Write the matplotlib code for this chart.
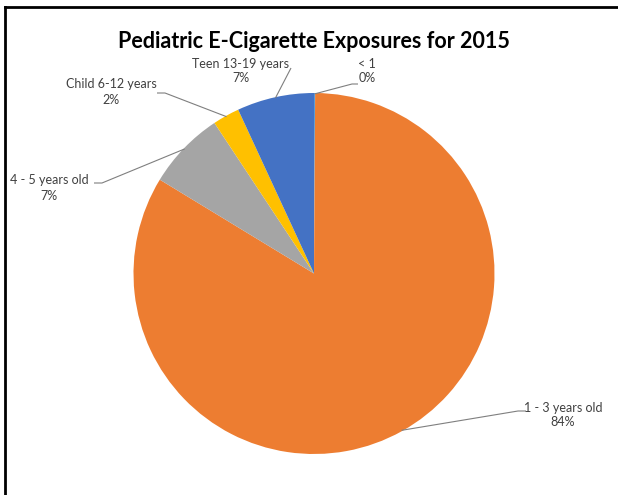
"""
Pediatric e-cigarette exposures for 2015, by age group (pie chart)
"""

import numpy as np
import matplotlib
matplotlib.use('Agg')
import matplotlib.pyplot as plt
from matplotlib.lines import Line2D

# Data (percent of exposures)
categories = ['< 1', '1 - 3 years old', '4 - 5 years old', 'Child 6-12 years', 'Teen 13-19 years']
shares = [0.1, 83.6, 7.0, 2.4, 6.9]
colors = ['#5B9BD5', '#ED7D31', '#A5A5A5', '#FFC000', '#4472C4']

plt.rcParams['font.family'] = ['Lato', 'DejaVu Sans']

W, H = 618, 495
fig = plt.figure(figsize=(W / 100, H / 100), dpi=100)
fig.patch.set_facecolor('white')

# Pie centre (314, 273.5) px, radius 180.5 px
cx, cy, r = 314, 273.5, 180.5
ax = fig.add_axes([(cx - r) / W, (H - cy - r) / H, 2 * r / W, 2 * r / H])
ax.set_aspect('equal')
ax.axis('off')

wedges, _ = ax.pie(shares, colors=colors, startangle=90, counterclock=False,
                   radius=1, center=(0, 0), wedgeprops=dict(linewidth=0))
ax.set_xlim(-1, 1)
ax.set_ylim(-1, 1)


def to_data(px, py):
    return (px - cx) / r, (cy - py) / r


# label layout: text centre, elbow point, end of horizontal stub (pixels)
layout = {
    '< 1': ((367, 71), (358, 84), (352, 84)),
    '1 - 3 years old': ((563, 415), (526, 411), (518, 411)),
    '4 - 5 years old': ((49, 188), (94, 183), (102, 183)),
    'Child 6-12 years': ((111, 92), (157, 93), (165, 93)),
    'Teen 13-19 years': ((241, 71), (291, 68), (291, 68)),
}

for wedge, cat, val in zip(wedges, categories, shares):
    (tx, ty), (ex, ey), (sx, sy) = layout[cat]
    mid = np.deg2rad((wedge.theta1 + wedge.theta2) / 2)
    px, py = np.cos(mid) * 0.995, np.sin(mid) * 0.995
    x1, y1 = to_data(ex, ey)
    x2, y2 = to_data(sx, sy)
    ax.plot([x1, x2, px], [y1, y2, py], color='#7F7F7F', lw=0.8,
            clip_on=False, solid_capstyle='butt')
    x, y = to_data(tx, ty)
    ax.text(x, y, f"{cat}\n{val:.0f}%", ha='center', va='center',
            fontsize=9, color='#404040', linespacing=1.3)

fig.text(cx / W, 1 - 41 / H, 'Pediatric E-Cigarette Exposures for 2015',
         ha='center', va='center', fontsize=15.5, fontweight='bold', color='black')

# chart frame (top and left edges visible in the crop)
fig.add_artist(Line2D([5 / W, 1], [1 - 7 / H, 1 - 7 / H], color='black', lw=2,
                      transform=fig.transFigure))
fig.add_artist(Line2D([5 / W, 5 / W], [0, 1 - 7 / H], color='black', lw=2,
                      transform=fig.transFigure))

plt.savefig('out.png', dpi=100)
